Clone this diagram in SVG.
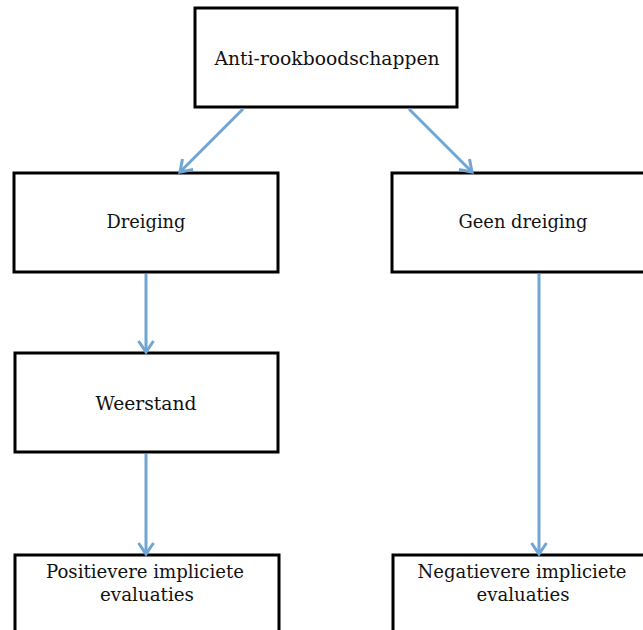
<svg xmlns="http://www.w3.org/2000/svg" width="643" height="630" viewBox="0 0 643 630">
<style>
.box{fill:#fff;stroke:#000;stroke-width:3}
.lbl{font-family:"DejaVu Serif","Liberation Serif",serif;font-size:19px;fill:#111;text-anchor:middle}
.con{stroke:#70a6d3;stroke-width:3;fill:none}
</style>
<defs>
<marker id="arr" markerUnits="userSpaceOnUse" markerWidth="16" markerHeight="20" refX="13" refY="10" orient="auto">
<path d="M2,2.5 L13,10 L2,17.5" fill="none" stroke="#70a6d3" stroke-width="3"/>
</marker>
</defs>
<rect width="643" height="630" fill="#fff"/>
<g id="n-anti">
<rect class="box" x="195" y="8" width="262" height="99"/>
<text class="lbl" x="327" y="65" textLength="225" lengthAdjust="spacingAndGlyphs">Anti-rookboodschappen</text>
</g>
<g id="n-dreiging">
<rect class="box" x="14" y="173" width="264" height="99"/>
<text class="lbl" x="146" y="228" textLength="79" lengthAdjust="spacingAndGlyphs">Dreiging</text>
</g>
<g id="n-geen">
<rect class="box" x="392" y="173" width="264" height="99"/>
<text class="lbl" x="523" y="228" textLength="129" lengthAdjust="spacingAndGlyphs">Geen dreiging</text>
</g>
<g id="n-weerstand">
<rect class="box" x="15" y="353" width="263" height="99"/>
<text class="lbl" x="146" y="410" textLength="101" lengthAdjust="spacingAndGlyphs">Weerstand</text>
</g>
<g id="n-positief">
<rect class="box" x="15" y="555" width="264" height="90"/>
<text class="lbl" x="145" y="578" textLength="198" lengthAdjust="spacingAndGlyphs">Positievere impliciete</text>
<text class="lbl" x="147" y="601" textLength="94" lengthAdjust="spacingAndGlyphs">evaluaties</text>
</g>
<g id="n-negatief">
<rect class="box" x="393" y="555" width="264" height="90"/>
<text class="lbl" x="522" y="578" textLength="209" lengthAdjust="spacingAndGlyphs">Negatievere impliciete</text>
<text class="lbl" x="523" y="601" textLength="93" lengthAdjust="spacingAndGlyphs">evaluaties</text>
</g>
<g id="connectors">
<line class="con" x1="243" y1="109" x2="180" y2="172" marker-end="url(#arr)"/>
<line class="con" x1="409" y1="109" x2="472" y2="172" marker-end="url(#arr)"/>
<line class="con" x1="146" y1="274" x2="146" y2="352" marker-end="url(#arr)"/>
<line class="con" x1="146" y1="454" x2="146" y2="554" marker-end="url(#arr)"/>
<line class="con" x1="539" y1="274" x2="539" y2="554" marker-end="url(#arr)"/>
</g>
</svg>
